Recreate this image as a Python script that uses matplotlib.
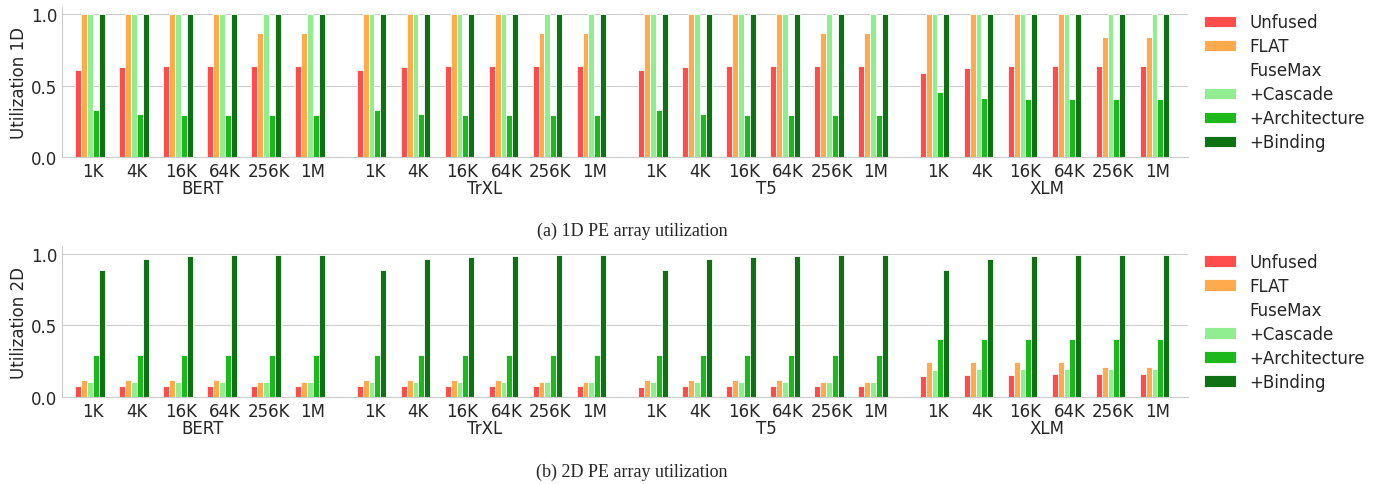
import numpy as np
import matplotlib.pyplot as plt
import seaborn as sns
from matplotlib.patches import Patch

sns.set_style('whitegrid')
plt.rcParams['font.family'] = ['DejaVu Sans']

models = ['BERT', 'TrXL', 'T5', 'XLM']
seq_lens = ['1K', '4K', '16K', '64K', '256K', '1M']
series = ['Unfused', 'FLAT', '+Cascade', '+Architecture', '+Binding']
colors = ['#ff4c4c', '#ffaa4c', '#90ee90', '#1cb81c', '#0e7214']

# 1D PE array utilization, 6 seq lengths per model (BERT, TrXL, T5, XLM)
unfused_1d = [0.61, 0.628, 0.633, 0.638, 0.638, 0.638,
              0.61, 0.628, 0.633, 0.638, 0.638, 0.638,
              0.61, 0.628, 0.633, 0.638, 0.638, 0.638,
              0.584, 0.624, 0.633, 0.636, 0.636, 0.638]
flat_1d = [1.0, 1.0, 1.0, 1.0, 0.864, 0.864,
           1.0, 1.0, 1.0, 1.0, 0.864, 0.864,
           1.0, 1.0, 1.0, 1.0, 0.864, 0.864,
           1.0, 1.0, 1.0, 1.0, 0.836, 0.836]
cascade_1d = [1.0] * 24
arch_1d = [0.332, 0.304, 0.297, 0.297, 0.297, 0.297,
           0.332, 0.304, 0.297, 0.297, 0.297, 0.297,
           0.332, 0.304, 0.297, 0.297, 0.297, 0.297,
           0.453, 0.416, 0.409, 0.407, 0.407, 0.407]
binding_1d = [1.0] * 24

# 2D PE array utilization
unfused_2d = [0.077, 0.078, 0.078, 0.078, 0.078, 0.078,
              0.075, 0.078, 0.078, 0.078, 0.078, 0.078,
              0.074, 0.078, 0.078, 0.078, 0.078, 0.078,
              0.148, 0.157, 0.157, 0.16, 0.16, 0.16]
flat_2d = [0.123, 0.123, 0.123, 0.123, 0.106, 0.106,
           0.123, 0.123, 0.123, 0.123, 0.106, 0.106,
           0.123, 0.123, 0.123, 0.123, 0.106, 0.106,
           0.248, 0.248, 0.248, 0.248, 0.211, 0.211]
cascade_2d = [0.109, 0.109, 0.109, 0.109, 0.109, 0.109,
              0.109, 0.109, 0.109, 0.109, 0.109, 0.109,
              0.109, 0.109, 0.109, 0.109, 0.109, 0.109,
              0.192, 0.199, 0.199, 0.199, 0.199, 0.199]
arch_2d = [0.296] * 18 + [0.407] * 6
binding_2d = [0.884, 0.961, 0.981, 0.988, 0.988, 0.988,
              0.884, 0.961, 0.979, 0.984, 0.988, 0.988,
              0.884, 0.961, 0.979, 0.986, 0.988, 0.988,
              0.884, 0.961, 0.981, 0.991, 0.991, 0.991]

panels = [
    ('Utilization 1D', '(a) 1D PE array utilization',
     [unfused_1d, flat_1d, cascade_1d, arch_1d, binding_1d]),
    ('Utilization 2D', '(b) 2D PE array utilization',
     [unfused_2d, flat_2d, cascade_2d, arch_2d, binding_2d]),
]

# x layout: 6 groups per model, extra gap between models
model_step = 6.4
xs = np.array([m * model_step + j for m in range(len(models)) for j in range(len(seq_lens))])
bw = 0.8 / 6

fig = plt.figure(figsize=(13.8, 4.85), dpi=100)
rects = [[0.045, 0.674, 0.816, 0.31], [0.045, 0.179, 0.816, 0.311]]

for (ylabel, caption, vals), rect in zip(panels, rects):
    ax = fig.add_axes(rect)
    for k, (name, v) in enumerate(zip(series, vals)):
        ax.bar(xs + (k - 2.5) * bw, v, width=bw, color=colors[k],
               edgecolor='white', linewidth=0.6, label=name)
    ax.set_xlim(-0.7, xs[-1] + 0.7)
    ax.set_ylim(0, 1.05)
    ax.set_yticks([0.0, 0.5, 1.0])
    ax.set_yticklabels(['0.0', '0.5', '1.0'], fontsize=12)
    ax.set_xticks(xs)
    ax.set_xticklabels(seq_lens * len(models), fontsize=12)
    ax.tick_params(axis='both', length=0, pad=3.5, colors='0.15')
    ax.set_ylabel(ylabel, fontsize=12, labelpad=2, color='0.15')
    ax.xaxis.grid(False)
    for s in ['top', 'right']:
        ax.spines[s].set_visible(False)
    for m, name in enumerate(models):
        cx = m * model_step + 2.5
        ax.annotate(name, xy=(cx, 0), xycoords=('data', 'axes fraction'),
                    xytext=(0, -31), textcoords='offset pixels',
                    ha='center', va='center', fontsize=12, color='0.15')

    handles, labels = ax.get_legend_handles_labels()
    blank = Patch(facecolor='none', edgecolor='none')
    handles = handles[:2] + [blank] + handles[2:]
    labels = labels[:2] + ['FuseMax'] + labels[2:]
    ax.legend(handles, labels, loc='upper left', bbox_to_anchor=(1.001, 1.055),
              frameon=False, fontsize=12, handlelength=1.9, labelspacing=0.36)

    fig.text(0.458, rect[1] - 0.152, caption, ha='center', va='center',
             fontsize=13, family='Liberation Serif')

fig.savefig('out.png', dpi=100)
